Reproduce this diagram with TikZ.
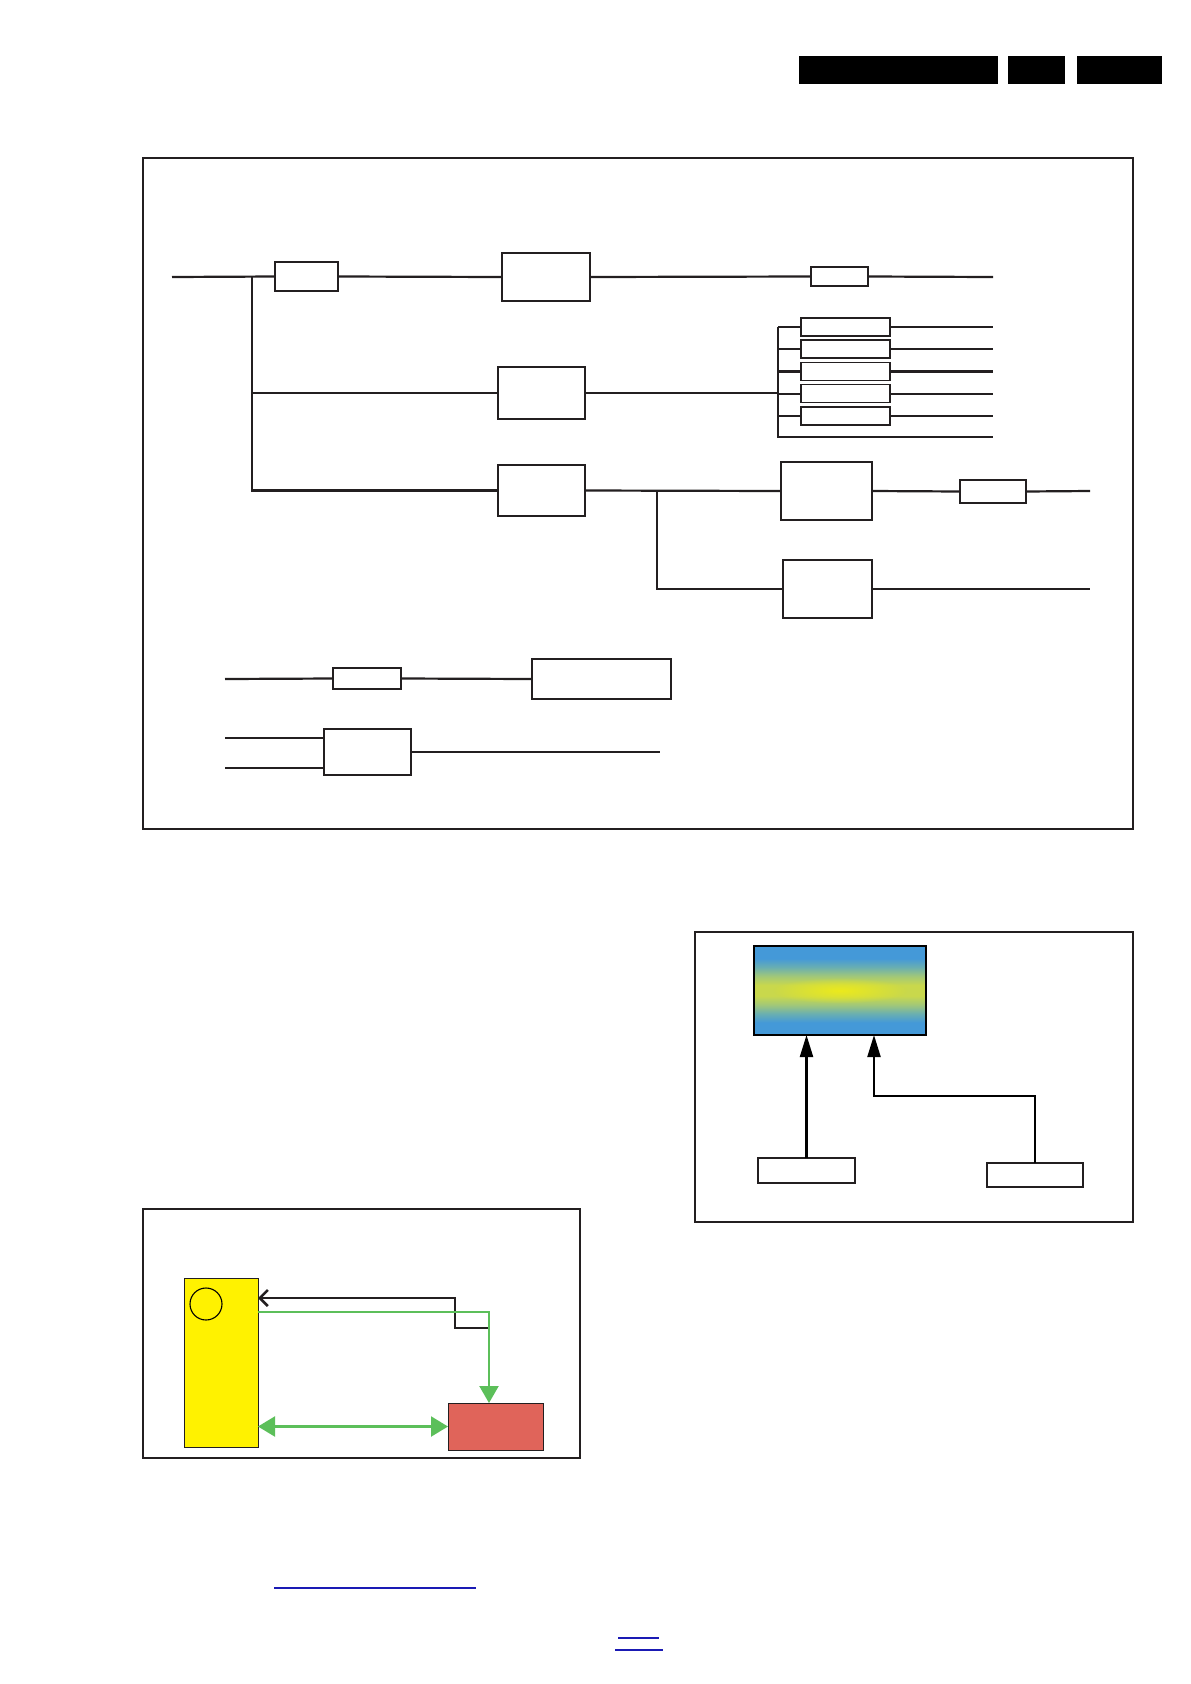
\documentclass[tikz,border=0pt]{standalone}
\usepackage{tikz}
\usetikzlibrary{positioning, arrows.meta, calc, fadings}
\definecolor{char}{HTML}{231F20}
\definecolor{padyellow}{HTML}{FFF200}
\definecolor{padred}{HTML}{E0645A}
\definecolor{sigreen}{HTML}{5CBF5A}
\definecolor{linkblue}{HTML}{1A1AB4}
\definecolor{dispblue}{HTML}{4499D8}
\definecolor{dispteal}{HTML}{6AAFB0}
\definecolor{dispgreen}{HTML}{A2C878}
\definecolor{displime}{HTML}{C9D84C}
\definecolor{dispyellow}{HTML}{ECEA1C}
\pgfdeclareverticalshading{dispshade}{100bp}{color(0bp)=(dispblue); color(32bp)=(dispblue);
  color(37bp)=(dispteal); color(42bp)=(dispgreen); color(47bp)=(displime); color(53bp)=(displime);
  color(58bp)=(dispgreen); color(63bp)=(dispteal); color(68bp)=(dispblue); color(100bp)=(dispblue)}
\tikzfading[name=glow, inner color=transparent!0, outer color=transparent!100]
\tikzset{
  unitbox/.style={draw=char, fill=white, line width=1.7pt, inner sep=0pt, outer sep=0pt},
  fusebox/.style={draw=char, fill=white, line width=1.5pt, inner sep=0pt, outer sep=0pt},
  wire/.style={draw=char, line width=2.2pt},
  frame/.style={draw=char, line width=2.3pt},
  dispbox/.style={draw=black, shading=dispshade, line width=2.8pt, inner sep=0pt, outer sep=0pt},
  arr/.style={-{Triangle[length=22pt,width=13pt]}, draw=black, line width=2.2pt},
  barr/.style={-{Straight Barb[length=8pt,width=16pt]}, draw=char, line width=2.6pt},
  garr/.style={-{Triangle[length=17pt,width=19pt]}, draw=sigreen, line width=2.2pt},
  gdbl/.style={{Triangle[length=17pt,width=20pt]}-{Triangle[length=17pt,width=20pt]},
               draw=sigreen, line width=2.2pt},
  link/.style={draw=linkblue, line width=1.6pt},
}

\begin{document}
\begin{tikzpicture}[x=1pt, y=-1pt]
  \useasboundingbox (0,0) rectangle (1191,1684);
  % header bars
  \fill[black] (799,56) rectangle (998,84);
  \fill[black] (1008,56) rectangle (1065,84);
  \fill[black] (1077,56) rectangle (1162,84);

  % block diagram
  \draw[frame] (143,158) rectangle (1133,829);
  \node[fusebox, minimum width=63, minimum height=29] (f1) at (306.5,276.5) {};
  \node[unitbox, minimum width=88, minimum height=48] (u1) at (546,277) {};
  \node[fusebox, minimum width=57, minimum height=19] (r1) at (839.5,276.5) {};
  \node[unitbox, minimum width=87, minimum height=52] (u2) at (541.5,393) {};
  \node[fusebox, minimum width=89, minimum height=18] (s1) at (845.5,327) {};
  \node[fusebox, minimum width=89, minimum height=18, below=4.2pt of s1] (s2) {};
  \node[fusebox, minimum width=89, minimum height=18, below=4.2pt of s2] (s3) {};
  \node[fusebox, minimum width=89, minimum height=18, below=4.2pt of s3] (s4) {};
  \node[fusebox, minimum width=89, minimum height=18, below=4.2pt of s4] (s5) {};
  \node[unitbox, minimum width=87, minimum height=51] (u3) at (541.5,490.5) {};
  \node[unitbox, minimum width=91, minimum height=58] (u4) at (826.5,491) {};
  \node[fusebox, minimum width=66, minimum height=23] (r2) at (993,491.5) {};
  \node[unitbox, minimum width=89, minimum height=58] (u5) at (827.5,589) {};
  \node[fusebox, minimum width=68, minimum height=21] (r3) at (367,678.5) {};
  \node[unitbox, minimum width=139, minimum height=40] (u6) at (601.5,679) {};
  \node[unitbox, minimum width=87, minimum height=46] (u7) at (367.5,752) {};

  \coordinate (in1) at (172,277);
  \coordinate (out1) at (993,277);
  \coordinate (tk) at (252,277);
  \coordinate (busb) at (778,437);
  \coordinate (jn) at (657,491);
  \coordinate (out3) at (1090,491);
  \coordinate (in4) at (225,679);
  \coordinate (in5a) at (225,738);
  \coordinate (in5b) at (225,768);
  \coordinate (out5) at (660,752);

  \draw[wire] (in1) -- (f1.west);
  \draw[wire] (f1.east) -- (u1.west);
  \draw[wire] (u1.east) -- (r1.west);
  \draw[wire] (r1.east) -- (out1);
  \draw[wire] (tk) |- (u2.west);
  \draw[wire] (tk) |- (u3.west);
  \draw[wire] (u2.east) -- (u2.east -| busb);
  \draw[wire] (s1.west -| busb) -- (busb) -- (busb -| out1);
  \foreach \i in {1,...,5} {
    \draw[wire] (s\i.west -| busb) -- (s\i.west);
    \draw[wire] (s\i.east) -- (s\i.east -| out1);
  }
  \draw[wire] (u3.east) -- (u4.west);
  \draw[wire] (jn) |- (u5.west);
  \draw[wire] (u4.east) -- (r2.west);
  \draw[wire] (r2.east) -- (out3);
  \draw[wire] (u5.east) -- (u5.east -| out3);
  \draw[wire] (in4) -- (r3.west);
  \draw[wire] (r3.east) -- (u6.west);
  \draw[wire] (in5a) -- (in5a -| u7.west);
  \draw[wire] (in5b) -- (in5b -| u7.west);
  \draw[wire] (u7.east) -- (out5);

  % display panel
  \draw[frame] (695,932) rectangle (1133,1222);
  \node[dispbox, minimum width=172, minimum height=89] (disp) at (840,990.5) {};
  \fill[dispyellow, path fading=glow] (disp.center) ellipse (68 and 13);
  \node[unitbox, line width=2.6pt, minimum width=97, minimum height=25] (ba) at (806.5,1170.5) {};
  \node[unitbox, line width=2.2pt, minimum width=96, minimum height=24] (bb) at (1035,1175) {};
  \coordinate (kink) at (874,1096);
  \draw[arr] (ba.north) -- (ba.north |- disp.south);
  \draw[arr] (bb.north) |- (kink) -- (kink |- disp.south);

  % pad panel
  \draw[frame, line width=2.5pt] (143,1209) rectangle (580,1458);
  \node[draw=char, fill=padyellow, line width=0.9pt, inner sep=0pt, outer sep=0pt,
        minimum width=74, minimum height=169] (yel) at (221,1362.5) {};
  \node[draw=black, circle, line width=1.1pt, inner sep=0pt, minimum size=32] (knob) at (206,1304) {};
  \node[draw=char, fill=padred, line width=0.9pt, inner sep=0pt, outer sep=0pt,
        minimum width=95, minimum height=47] (red) at (495.5,1426.5) {};
  \coordinate (bk) at (489,1328);
  \coordinate (bj) at (455,1298);
  \coordinate (gk) at (489,1312);
  \draw[barr] (bk) -| (bj) -- (bj -| yel.east);
  \draw[garr] (gk -| yel.east) -- (gk) -- (gk |- red.north);
  \draw[gdbl] (yel.east |- red) -- (red.west);

  % links
  \draw[link] (274,1588) -- (476,1588);
  \draw[link] (618,1638) -- (659,1638);
  \draw[link] (615,1650) -- (663,1650);
\end{tikzpicture}
\end{document}
